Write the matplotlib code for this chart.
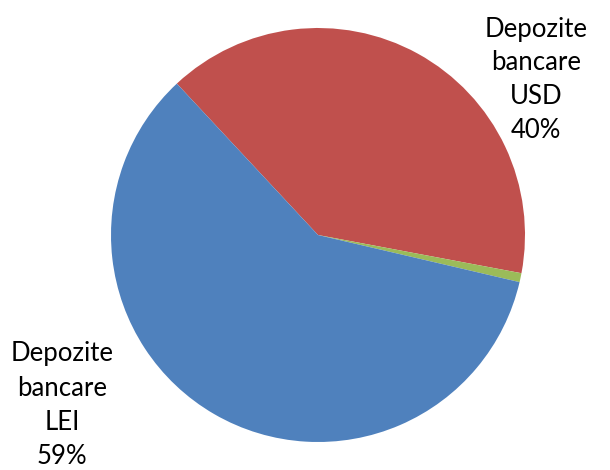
import matplotlib.pyplot as plt

# share of deposits by currency
labels = ["Depozite\nbancare\nUSD", "", "Depozite\nbancare\nLEI"]
values = [39.9, 0.7, 59.4]
colors = ["#C0504D", "#9BBB59", "#4F81BD"]

W, H = 610, 470
fig = plt.figure(figsize=(W / 100, H / 100), dpi=100)
ax = fig.add_axes([0, 0, 1, 1])

ax.pie(values, colors=colors, startangle=133, counterclock=False,
       center=(318, H - 235), radius=207, frame=True,
       wedgeprops=dict(linewidth=0))
ax.set_xlim(0, W)
ax.set_ylim(0, H)
ax.set_aspect("equal")
ax.axis("off")

total = sum(values)
pos = {0: (536, H - 80), 2: (62, H - 405)}
for i, (x, y) in pos.items():
    txt = labels[i] + "\n" + f"{values[i] / total * 100:.0f}%"
    ax.text(x, y, txt, ha="center", va="center", fontsize=18.5,
            family="Lato", linespacing=1.45, color="black")

fig.savefig("out.png", dpi=100)
